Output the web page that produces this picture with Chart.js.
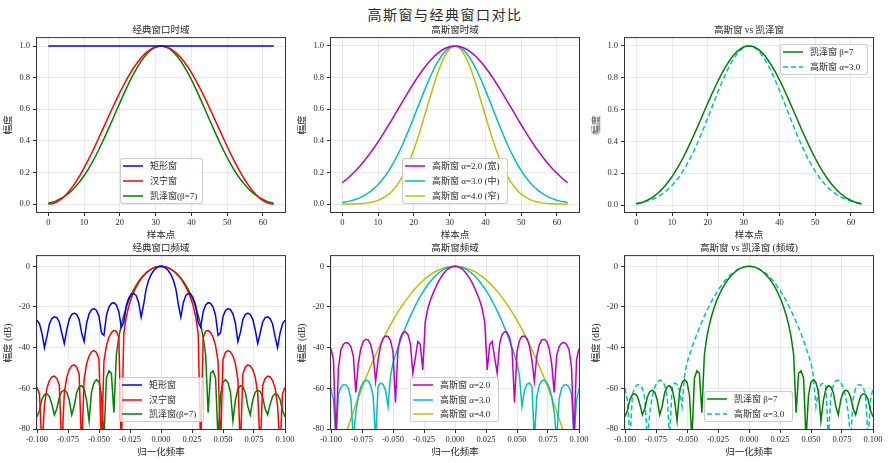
<!DOCTYPE html>
<html><head><meta charset="utf-8">
<script src="https://cdn.jsdelivr.net/npm/chart.js@4.4.1/dist/chart.umd.min.js"></script>
<style>
html,body{margin:0;padding:0;background:#fff}
#fig{position:relative;width:890px;height:463px;overflow:hidden;font-family:"Liberation Serif","Noto Sans CJK SC",serif;color:#2a2a2a}
canvas{position:absolute}
.txt{position:absolute;white-space:nowrap;line-height:1;transform:translate(-50%,-50%)}
.rot{transform:translate(-50%,-50%) rotate(-90deg)}
.lg{position:absolute;background:rgba(255,255,255,0.8);border:1px solid rgba(200,200,200,0.9);border-radius:3px;box-sizing:border-box;font-size:9px}
.lg .row{position:absolute;left:0;right:0;height:12px;line-height:12px}
.lg svg{position:absolute;left:2px;top:4px}
.lg .lab{position:absolute;left:29px;top:0;white-space:nowrap}
</style></head><body><div id="fig"></div>
<script>
// ---------------- DATA ----------------
const sampleIndex = [0,1,2,3,4,5,6,7,8,9,10,11,12,13,14,15,16,17,18,19,20,21,22,23,24,25,26,27,28,29,30,31,32,33,34,35,36,37,38,39,40,41,42,43,44,45,46,47,48,49,50,51,52,53,54,55,56,57,58,59,60,61,62,63];
const sampleTicks = [0,10,20,30,40,50,60];
const ampTicks = [0,0.2,0.4,0.6,0.8,1.0];

const rectTime = [1,1,1,1,1,1,1,1,1,1,1,1,1,1,1,1,1,1,1,1,1,1,1,1,1,1,1,1,1,1,1,1,1,1,1,1,1,1,1,1,1,1,1,1,1,1,1,1,1,1,1,1,1,1,1,1,1,1,1,1,1,1,1,1];
const hannTime = [0.000,0.002,0.010,0.022,0.039,0.061,0.087,0.117,0.151,0.188,0.229,0.272,0.317,0.364,0.413,0.463,0.512,0.562,0.611,0.659,0.706,0.750,0.792,0.831,0.867,0.899,0.927,0.950,0.970,0.985,0.994,0.999,
 0.999,0.994,0.985,0.970,0.950,0.927,0.899,0.867,0.831,0.792,0.750,0.706,0.659,0.611,0.562,0.512,0.463,0.413,0.364,0.317,0.272,0.229,0.188,0.151,0.117,0.087,0.061,0.039,0.022,0.010,0.002,0.000];
const kaiserTime = [0.006,0.011,0.019,0.029,0.041,0.056,0.074,0.095,0.120,0.148,0.179,0.214,0.253,0.294,0.339,0.386,0.435,0.485,0.537,0.589,0.640,0.691,0.740,0.787,0.830,0.870,0.905,0.936,0.961,0.980,0.993,0.999,
 0.999,0.993,0.980,0.961,0.936,0.905,0.870,0.830,0.787,0.740,0.691,0.640,0.589,0.537,0.485,0.435,0.386,0.339,0.294,0.253,0.214,0.179,0.148,0.120,0.095,0.074,0.056,0.041,0.029,0.019,0.011,0.006];
const gauss2Time = [0.135,0.153,0.173,0.195,0.218,0.243,0.270,0.298,0.329,0.360,0.394,0.429,0.465,0.502,0.539,0.578,0.616,0.655,0.693,0.730,0.766,0.801,0.834,0.864,0.893,0.918,0.941,0.960,0.976,0.987,0.995,1.000,
 1.000,0.995,0.987,0.976,0.960,0.941,0.918,0.893,0.864,0.834,0.801,0.766,0.730,0.693,0.655,0.616,0.578,0.539,0.502,0.465,0.429,0.394,0.360,0.329,0.298,0.270,0.243,0.218,0.195,0.173,0.153,0.135];
const gauss3Time = [0.011,0.015,0.019,0.025,0.032,0.041,0.052,0.066,0.082,0.101,0.123,0.149,0.178,0.212,0.249,0.291,0.336,0.385,0.438,0.492,0.549,0.607,0.664,0.721,0.775,0.826,0.872,0.912,0.946,0.972,0.990,0.999,
 0.999,0.990,0.972,0.946,0.912,0.872,0.826,0.775,0.721,0.664,0.607,0.549,0.492,0.438,0.385,0.336,0.291,0.249,0.212,0.178,0.149,0.123,0.101,0.082,0.066,0.052,0.041,0.032,0.025,0.019,0.015,0.011];
const gauss4Time = [0.000,0.001,0.001,0.001,0.002,0.003,0.005,0.008,0.012,0.017,0.024,0.034,0.047,0.063,0.085,0.111,0.144,0.184,0.230,0.284,0.344,0.411,0.483,0.559,0.635,0.711,0.784,0.849,0.906,0.951,0.982,0.998,
 0.998,0.982,0.951,0.906,0.849,0.784,0.711,0.635,0.559,0.483,0.411,0.344,0.284,0.230,0.184,0.144,0.111,0.085,0.063,0.047,0.034,0.024,0.017,0.012,0.008,0.005,0.003,0.002,0.001,0.001,0.001,0.000];

const freqAxis = [-0.1,-0.098,-0.096,-0.094,-0.092,-0.09,-0.088,-0.086,-0.084,-0.082,-0.08,-0.078,-0.076,-0.074,-0.072,-0.07,-0.068,-0.066,-0.064,-0.062,-0.06,-0.058,-0.056,-0.054,-0.052,-0.05,-0.048,-0.046,-0.044,-0.042,-0.04,-0.038,-0.036,-0.034,-0.032,-0.03,-0.028,-0.026,-0.024,-0.022,-0.02,-0.018,-0.016,-0.014,-0.012,-0.01,-0.008,-0.006,-0.004,-0.002,
 0,0.002,0.004,0.006,0.008,0.01,0.012,0.014,0.016,0.018,0.02,0.022,0.024,0.026,0.028,0.03,0.032,0.034,0.036,0.038,0.04,0.042,0.044,0.046,0.048,0.05,0.052,0.054,0.056,0.058,0.06,0.062,0.064,0.066,0.068,0.07,0.072,0.074,0.076,0.078,0.08,0.082,0.084,0.086,0.088,0.09,0.092,0.094,0.096,0.098,0.1];
const freqTicks = [-0.1,-0.075,-0.05,-0.025,0,0.025,0.05,0.075,0.1];
const dbTicks = [-80,-60,-40,-20,0];

const rectDb = [-26.5,-28.3,-32.9,-40,-34.6,-28.4,-25.7,-24.8,-25.2,-27.4,
 -32.8,-38,-31.3,-26.1,-23.7,-23,-23.7,-26.2,-32.7,-37,
 -28,-23.4,-21.3,-20.8,-21.7,-24.7,-32.7,-34,-24.2,-20.1,
 -18.3,-17.9,-19,-22.3,-30,-27.7,-19.3,-15.6,-13.7,-13.3,
 -14.4,-17.9,-25,-18.8,-11.2,-6.9,-4.1,-2.2,-1,-0.2,
 0,
 -0.2,-1,-2.2,-4.1,-6.9,-11.2,-18.8,-25,-17.9,-14.4,
 -13.3,-13.7,-15.6,-19.3,-27.7,-30,-22.3,-19,-17.9,-18.3,
 -20.1,-24.2,-34,-32.7,-24.7,-21.7,-20.8,-21.3,-23.4,-28,
 -37,-32.7,-26.2,-23.7,-23,-23.7,-26.1,-31.3,-38,-32.8,
 -27.4,-25.2,-24.8,-25.7,-28.4,-34.6,-40,-32.9,-28.3,-26.5];
const hannDb = [-59.5,-62.8,-90,-68.3,-59.9,-56.2,-54.4,-54,-55.1,-58.5,
 -90,-62.5,-54.5,-50.8,-49,-48.5,-49.6,-53,-90,-55.6,
 -47.9,-44.1,-42.1,-41.5,-42.4,-45.8,-90,-46.6,-39,-34.9,
 -32.6,-31.5,-32,-35,-90,-33.1,-24.8,-19.6,-15.7,-12.6,
 -10.1,-8,-6.1,-4.6,-3.3,-2.3,-1.5,-0.8,-0.4,-0.1,
 0,
 -0.1,-0.4,-0.8,-1.5,-2.3,-3.3,-4.6,-6.1,-8,-10.1,
 -12.6,-15.7,-19.6,-24.8,-33.1,-90,-35,-32,-31.5,-32.6,
 -34.9,-39,-46.6,-90,-45.8,-42.4,-41.5,-42.1,-44.1,-47.9,
 -55.6,-90,-53,-49.6,-48.5,-49,-50.8,-54.5,-62.5,-90,
 -58.5,-55.1,-54,-54.4,-56.2,-59.9,-68.3,-90,-62.8,-59.5];
const kaiserDb = [-74,-70.8,-65.4,-63.1,-62.7,-64,-67.9,-73,-70,-64.4,
 -61.6,-60.9,-61.9,-65.7,-73,-68.8,-62,-59.3,-58.7,-60.3,
 -65.9,-76,-61.7,-57.2,-55.7,-57,-63.4,-85,-54.9,-51.4,
 -52.6,-72,-43.5,-34.8,-28.8,-24.1,-20.2,-16.8,-14,-11.5,
 -9.3,-7.4,-5.8,-4.4,-3.2,-2.2,-1.4,-0.8,-0.3,-0.1,
 0,
 -0.1,-0.3,-0.8,-1.4,-2.2,-3.2,-4.4,-5.8,-7.4,-9.3,
 -11.5,-14,-16.8,-20.2,-24.1,-28.8,-34.8,-43.5,-72,-52.6,
 -51.4,-54.9,-85,-63.4,-57,-55.7,-57.2,-61.7,-76,-65.9,
 -60.3,-58.7,-59.3,-62,-68.8,-73,-65.7,-61.9,-60.9,-61.6,
 -64.4,-70,-73,-67.9,-64,-62.7,-63.1,-65.4,-70.8,-74];
const gauss2Db = [-40.5,-46,-85,-50,-41,-38.3,-37.5,-37.8,-39.5,-44,
 -62,-48,-40.5,-37,-35.9,-36.2,-38.5,-44,-56.5,-46,
 -39,-35.5,-34.3,-34.5,-36.5,-42,-67,-41,-35,-32.5,
 -32.2,-33.5,-38,-52.5,-45,-37,-38.5,-51,-27.5,-21,
 -17,-13.8,-10.9,-8.3,-6.1,-4.3,-2.7,-1.5,-0.7,-0.2,
 0,
 -0.2,-0.7,-1.5,-2.7,-4.3,-6.1,-8.3,-10.9,-13.8,-17,
 -21,-27.5,-51,-38.5,-37,-45,-52.5,-38,-33.5,-32.2,
 -32.5,-35,-41,-67,-42,-36.5,-34.5,-34.3,-35.5,-39,
 -46,-56.5,-44,-38.5,-36.2,-35.9,-37,-40.5,-48,-62,
 -44,-39.5,-37.8,-37.5,-38.3,-41,-50,-85,-46,-40.5];
const gauss3Db = [-60,-66,-85,-63,-59.5,-58.2,-58.3,-60,-65,-85,
 -72,-64,-59.5,-57,-56,-56.3,-58.5,-64,-85,-59,
 -57.4,-58,-61,-69,-54,-47.5,-43.6,-40,-36.6,-33.3,
 -30.2,-27.3,-24.5,-21.9,-19.4,-17,-14.8,-12.8,-10.9,-9.2,
 -7.6,-6.1,-4.8,-3.7,-2.7,-1.9,-1.2,-0.7,-0.3,-0.1,
 0,
 -0.1,-0.3,-0.7,-1.2,-1.9,-2.7,-3.7,-4.8,-6.1,-7.6,
 -9.2,-10.9,-12.8,-14.8,-17,-19.4,-21.9,-24.5,-27.3,-30.2,
 -33.3,-36.6,-40,-43.6,-47.5,-54,-69,-61,-58,-57.4,
 -59,-85,-64,-58.5,-56.3,-56,-57,-59.5,-64,-72,
 -85,-65,-60,-58.3,-58.2,-59.5,-63,-85,-66,-60];
const gauss4Db = [-106.3,-102.1,-98,-94,-90,-86.1,-82.3,-78.6,-75,-71.5,
 -68.1,-64.7,-61.4,-58.2,-55.1,-52.1,-49.2,-46.3,-43.6,-40.9,
 -38.3,-35.8,-33.4,-31,-28.8,-26.6,-24.5,-22.5,-20.6,-18.8,
 -17,-15.4,-13.8,-12.3,-10.9,-9.6,-8.3,-7.2,-6.1,-5.1,
 -4.3,-3.4,-2.7,-2.1,-1.5,-1.1,-0.7,-0.4,-0.2,-0.04,
 0,
 -0.04,-0.2,-0.4,-0.7,-1.1,-1.5,-2.1,-2.7,-3.4,-4.3,
 -5.1,-6.1,-7.2,-8.3,-9.6,-10.9,-12.3,-13.8,-15.4,-17,
 -18.8,-20.6,-22.5,-24.5,-26.6,-28.8,-31,-33.4,-35.8,-38.3,
 -40.9,-43.6,-46.3,-49.2,-52.1,-55.1,-58.2,-61.4,-64.7,-68.1,
 -71.5,-75,-78.6,-82.3,-86.1,-90,-94,-98,-102.1,-106.3];

// ---------------- LAYOUT / STYLE ----------------
const fig = document.getElementById('fig');
const COL_L = [37, 331, 625], COL_W = 248, ROW_T = [38, 256], ROW_H = [174, 173];
const YW = 36, PT = 8, PR = 16, XH = 20;
const C = {b:'#0000ff', r:'#ff0000', g:'#008000', m:'#bf00bf', c:'#00bfbf', y:'#bfbf00'};
const tickFont = {family:'"Liberation Serif", serif', size:8.5};
const SVGNS = 'http://www.w3.org/2000/svg';

function addText(str, x, y, size, cls, extra){
  const d = document.createElement('div');
  d.className = 'txt' + (cls ? ' ' + cls : '');
  d.textContent = str;
  d.style.left = x + 'px'; d.style.top = y + 'px'; d.style.fontSize = size + 'px';
  if (extra) Object.assign(d.style, extra);
  fig.appendChild(d);
  return d;
}

const framePlugin = {
  id: 'frame',
  afterDatasetsDraw(chart){
    const a = chart.chartArea, ctx = chart.ctx;
    ctx.save();
    ctx.strokeStyle = '#333';
    ctx.lineWidth = 1;
    ctx.strokeRect(a.left - 0.5, a.top - 0.5, a.right - a.left + 1, a.bottom - a.top + 1);
    ctx.restore();
  }
};

function gridOpts(){
  return {color:'rgba(176,176,176,0.35)', lineWidth:0.8, drawTicks:true, tickLength:4, tickColor:'#333', tickWidth:1};
}

function buildPanel(p){
  const cv = document.createElement('canvas');
  const W = YW + COL_W + PR, H = PT + p.h + XH;
  cv.width = W; cv.height = H;
  cv.style.left = (p.l - YW) + 'px'; cv.style.top = (p.t - PT) + 'px';
  cv.style.width = W + 'px'; cv.style.height = H + 'px';
  fig.appendChild(cv);
  new Chart(cv, {
    type: 'line',
    data: {datasets: p.series.map(s => ({
      label: s.label,
      data: p.xs.map((x, i) => ({x: x, y: s.ys[i]})),
      borderColor: s.color, backgroundColor: s.color,
      borderWidth: 1.5, borderDash: s.dash || [],
      pointRadius: 0, pointHoverRadius: 0, fill: false, tension: 0
    }))},
    options: {
      responsive: false, animation: false, events: [],
      layout: {padding: {top: PT, right: PR, left: 0, bottom: 0}},
      plugins: {legend: {display: false}, tooltip: {enabled: false}},
      scales: {
        x: {type: 'linear', min: p.xmin, max: p.xmax,
            afterBuildTicks: s => { s.ticks = p.xticks.map(v => ({value: v})); },
            afterFit: s => { s.height = XH; },
            ticks: {autoSkip: false, maxRotation: 0, padding: 2, color: '#2a2a2a', font: tickFont, callback: v => p.xfmt(v)},
            grid: gridOpts(), border: {display: false}},
        y: {type: 'linear', min: p.ymin, max: p.ymax,
            afterBuildTicks: s => { s.ticks = p.yticks.map(v => ({value: v})); },
            afterFit: s => { s.width = YW; },
            ticks: {autoSkip: false, padding: 3, color: '#2a2a2a', font: tickFont, callback: v => p.yfmt(v)},
            grid: gridOpts(), border: {display: false}}
      }
    },
    plugins: [framePlugin]
  });

  const cx = p.l + COL_W / 2;
  addText(p.title, cx, p.t - 7.5, 9.5);
  addText(p.xlabel, cx, p.t + p.h + 24, 9.5);
  addText(p.ylabel, p.ylx, p.t + p.h / 2, 9.5, 'rot');

  const L = p.legend;
  const n = p.series.length;
  const lg = document.createElement('div');
  lg.className = 'lg';
  lg.style.left = L.x + 'px'; lg.style.top = L.y + 'px'; lg.style.width = L.w + 'px';
  lg.style.height = (L.pad * 2 + (n - 1) * L.gap) + 'px';
  p.series.forEach((s, i) => {
    const row = document.createElement('div');
    row.className = 'row';
    row.style.top = (L.pad - 1 + i * L.gap - 6) + 'px';
    const svg = document.createElementNS(SVGNS, 'svg');
    svg.setAttribute('width', '20'); svg.setAttribute('height', '4');
    const ln = document.createElementNS(SVGNS, 'line');
    ln.setAttribute('x1', '0'); ln.setAttribute('y1', '2'); ln.setAttribute('x2', '20'); ln.setAttribute('y2', '2');
    ln.setAttribute('stroke', s.color); ln.setAttribute('stroke-width', '1.5');
    if (s.dash) ln.setAttribute('stroke-dasharray', s.dash.join(','));
    svg.appendChild(ln);
    const lab = document.createElement('span');
    lab.className = 'lab';
    lab.textContent = s.label;
    row.appendChild(svg); row.appendChild(lab);
    lg.appendChild(row);
  });
  fig.appendChild(lg);
}

const timeX = {xs: sampleIndex, xmin: -3.15, xmax: 66.15, xticks: sampleTicks, xfmt: v => String(v), yticks: ampTicks, yfmt: v => v.toFixed(1), xlabel: '样本点', ylabel: '幅度'};
const freqX = {xs: freqAxis, xmin: -0.1, xmax: 0.1, xticks: freqTicks, xfmt: v => v.toFixed(3), ymin: -80, ymax: 5, yticks: dbTicks, yfmt: v => String(v), xlabel: '归一化频率', ylabel: '幅度 (dB)'};

const panels = [
  Object.assign({}, timeX, {l: COL_L[0], t: ROW_T[0], h: ROW_H[0], ymin: -0.05, ymax: 1.05, ylx: 8.5, title: '经典窗口时域',
    series: [{label: '矩形窗', ys: rectTime, color: C.b}, {label: '汉宁窗', ys: hannTime, color: C.r}, {label: '凯泽窗(β=7)', ys: kaiserTime, color: C.g}],
    legend: {x: 120, y: 158, w: 83, pad: 8, gap: 15}}),
  Object.assign({}, timeX, {l: COL_L[1], t: ROW_T[0], h: ROW_H[0], ymin: -0.0497, ymax: 1.0498, ylx: 302.5, title: '高斯窗时域',
    series: [{label: '高斯窗 α=2.0 (宽)', ys: gauss2Time, color: C.m}, {label: '高斯窗 α=3.0 (中)', ys: gauss3Time, color: C.c}, {label: '高斯窗 α=4.0 (窄)', ys: gauss4Time, color: C.y}],
    legend: {x: 402, y: 158, w: 106, pad: 8, gap: 15}}),
  Object.assign({}, timeX, {l: COL_L[2], t: ROW_T[0], h: ROW_H[0], ymin: -0.0438, ymax: 1.0489, ylx: 597, title: '高斯窗 vs 凯泽窗',
    series: [{label: '凯泽窗 β=7', ys: kaiserTime, color: C.g}, {label: '高斯窗 α=3.0', ys: gauss3Time, color: C.c, dash: [5, 3]}],
    legend: {x: 780, y: 44, w: 88, pad: 8, gap: 15}}),
  Object.assign({}, freqX, {l: COL_L[0], t: ROW_T[1], h: ROW_H[1], ylx: 8.5, title: '经典窗口频域',
    series: [{label: '矩形窗', ys: rectDb, color: C.b}, {label: '汉宁窗', ys: hannDb, color: C.r}, {label: '凯泽窗(β=7)', ys: kaiserDb, color: C.g}],
    legend: {x: 119, y: 377, w: 85, pad: 8, gap: 14.5}}),
  Object.assign({}, freqX, {l: COL_L[1], t: ROW_T[1], h: ROW_H[1], ylx: 302.5, title: '高斯窗频域',
    series: [{label: '高斯窗 α=2.0', ys: gauss2Db, color: C.m}, {label: '高斯窗 α=3.0', ys: gauss3Db, color: C.c}, {label: '高斯窗 α=4.0', ys: gauss4Db, color: C.y}],
    legend: {x: 410, y: 377, w: 89, pad: 8, gap: 14.5}}),
  Object.assign({}, freqX, {l: COL_L[2], t: ROW_T[1], h: ROW_H[1], ylx: 596.5, title: '高斯窗 vs 凯泽窗 (频域)',
    series: [{label: '凯泽窗 β=7', ys: kaiserDb, color: C.g}, {label: '高斯窗 α=3.0', ys: gauss3Db, color: C.c, dash: [5, 3]}],
    legend: {x: 704, y: 391, w: 89, pad: 8, gap: 14.5}})
];

addText('高斯窗与经典窗口对比', 445, 16, 14, '', {letterSpacing: '1.5px'});
panels.forEach(buildPanel);
</script></body></html>
